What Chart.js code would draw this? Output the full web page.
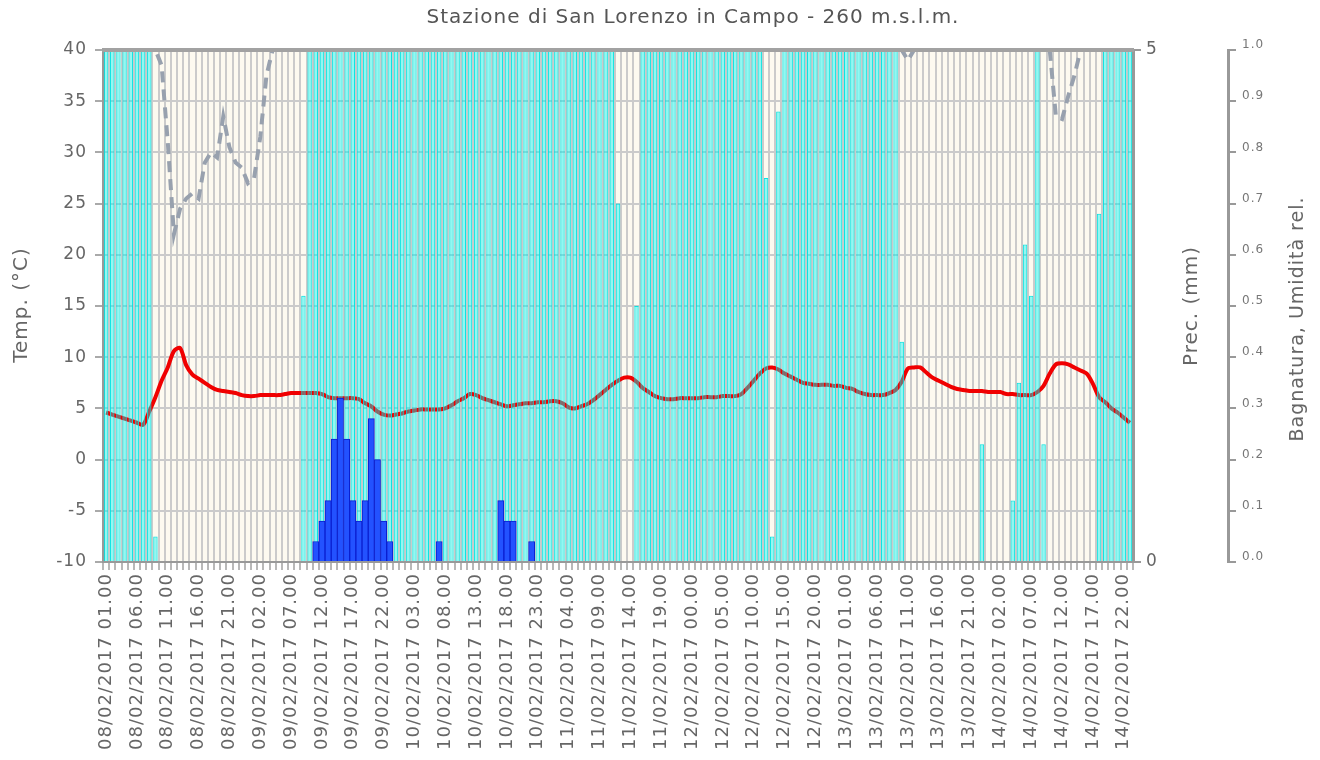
<!DOCTYPE html>
<html>
<head>
<meta charset="utf-8">
<script src="https://cdn.jsdelivr.net/npm/chart.js@4.4.1/dist/chart.umd.min.js"></script>
<style>
  html, body { margin: 0; padding: 0; background: #fff; }
  #wrap { width: 1320px; height: 760px; }
</style>
</head>
<body>
<div id="wrap"><canvas id="meteo" width="1320" height="760"></canvas></div>
<script>
// Testi
const chartTitle = 'Stazione di San Lorenzo in Campo - 260 m.s.l.m.';
const tempTitle = 'Temp. (°C)';
const precTitle = 'Prec. (mm)';
const wetTitle = 'Bagnatura, Umidità rel.';

// Asse orario: dal 08/02/2017 01.00, una categoria per ora
const startDay = 8;
const startHour = 1;
const hourCount = 167;
const labelEvery = 5;

// Temperatura (°C), un valore per ora
const temperature = [
  4.6, 4.4, 4.2, 4.0, 3.8, 3.6, 3.4, 4.7, 6.1, 7.7,
  9.0, 10.6, 10.9, 9.2, 8.3, 7.9, 7.5, 7.1, 6.8, 6.7,
  6.6, 6.5, 6.3, 6.2, 6.2, 6.3, 6.3, 6.3, 6.3, 6.4,
  6.5, 6.5, 6.5, 6.5, 6.5, 6.4, 6.1, 6.0, 6.0, 6.0,
  6.0, 5.9, 5.5, 5.2, 4.7, 4.4, 4.3, 4.4, 4.5, 4.7,
  4.8, 4.9, 4.9, 4.9, 4.9, 5.0, 5.3, 5.7, 6.0, 6.4,
  6.3, 6.0, 5.8, 5.6, 5.4, 5.2, 5.3, 5.4, 5.5, 5.5,
  5.6, 5.6, 5.7, 5.7, 5.5, 5.1, 5.0, 5.2, 5.4, 5.8,
  6.3, 6.8, 7.3, 7.7, 8.0, 8.0, 7.6, 7.0, 6.6, 6.2,
  6.0, 5.9, 5.9, 6.0, 6.0, 6.0, 6.0, 6.1, 6.1, 6.1,
  6.2, 6.2, 6.2, 6.4, 7.0, 7.7, 8.4, 8.9, 9.0, 8.8,
  8.4, 8.1, 7.8, 7.5, 7.4, 7.3, 7.3, 7.3, 7.2, 7.2,
  7.0, 6.9, 6.6, 6.4, 6.3, 6.3, 6.3, 6.5, 6.8, 7.6,
  8.9, 9.0, 9.0, 8.5, 8.0, 7.7, 7.4, 7.1, 6.9, 6.8,
  6.7, 6.7, 6.7, 6.6, 6.6, 6.6, 6.4, 6.4, 6.3, 6.3,
  6.3, 6.6, 7.2, 8.4, 9.3, 9.4, 9.3, 9.0, 8.7, 8.4,
  7.4, 6.1, 5.6, 5.0, 4.6, 4.1, 3.6
];

// Precipitazione (mm)
const precipitation = [
  0, 0, 0, 0, 0, 0, 0, 0, 0, 0,
  0, 0, 0, 0, 0, 0, 0, 0, 0, 0,
  0, 0, 0, 0, 0, 0, 0, 0, 0, 0,
  0, 0, 0, 0, 0.2, 0.4, 0.6, 1.2, 1.6, 1.2,
  0.6, 0.4, 0.6, 1.4, 1.0, 0.4, 0.2, 0, 0, 0,
  0, 0, 0, 0, 0.2, 0, 0, 0, 0, 0,
  0, 0, 0, 0, 0.6, 0.4, 0.4, 0, 0, 0.2,
  0, 0, 0, 0, 0, 0, 0, 0, 0, 0,
  0, 0, 0, 0, 0, 0, 0, 0, 0, 0,
  0, 0, 0, 0, 0, 0, 0, 0, 0, 0,
  0, 0, 0, 0, 0, 0, 0, 0, 0, 0,
  0, 0, 0, 0, 0, 0, 0, 0, 0, 0,
  0, 0, 0, 0, 0, 0, 0, 0, 0, 0,
  0, 0, 0, 0, 0, 0, 0, 0, 0, 0,
  0, 0, 0, 0, 0, 0, 0, 0, 0, 0,
  0, 0, 0, 0, 0, 0, 0, 0, 0, 0,
  0, 0, 0, 0, 0, 0, 0
];

// Bagnatura fogliare (0-1)
const wetness = [
  1, 1, 1, 1, 1, 1, 1, 1, 0.05, 0,
  0, 0, 0, 0, 0, 0, 0, 0, 0, 0,
  0, 0, 0, 0, 0, 0, 0, 0, 0, 0,
  0, 0, 0.52, 1, 1, 1, 1, 1, 1, 1,
  1, 1, 1, 1, 1, 1, 1, 1, 1, 1,
  1, 1, 1, 1, 1, 1, 1, 1, 1, 1,
  1, 1, 1, 1, 1, 1, 1, 1, 1, 1,
  1, 1, 1, 1, 1, 1, 1, 1, 1, 1,
  1, 1, 1, 0.7, 0, 0, 0.5, 1, 1, 1,
  1, 1, 1, 1, 1, 1, 1, 1, 1, 1,
  1, 1, 1, 1, 1, 1, 1, 0.75, 0.05, 0.88,
  1, 1, 1, 1, 1, 1, 1, 1, 1, 1,
  1, 1, 1, 1, 1, 1, 1, 1, 1, 0.43,
  0, 0, 0, 0, 0, 0, 0, 0, 0, 0,
  0, 0, 0.23, 0, 0, 0, 0, 0.12, 0.35, 0.62,
  0.52, 1, 0.23, 0, 0, 0, 0, 0, 0, 0,
  0, 0.68, 1, 1, 1, 1, 1
];

// Umidità relativa (0-1)
const humidity = [
  1, 1, 1, 1, 1, 1, 1, 1, 1, 0.97,
  0.82, 0.64, 0.69, 0.71, 0.72, 0.71, 0.78, 0.80, 0.79, 0.87,
  0.81, 0.78, 0.77, 0.74, 0.75, 0.83, 0.95, 1, 1, 1,
  1, 1, 1, 1, 1, 1, 1, 1, 1, 1,
  1, 1, 1, 1, 1, 1, 1, 1, 1, 1,
  1, 1, 1, 1, 1, 1, 1, 1, 1, 1,
  1, 1, 1, 1, 1, 1, 1, 1, 1, 1,
  1, 1, 1, 1, 1, 1, 1, 1, 1, 1,
  1, 1, 1, 1, 1, 1, 1, 1, 1, 1,
  1, 1, 1, 1, 1, 1, 1, 1, 1, 1,
  1, 1, 1, 1, 1, 1, 1, 1, 1, 1,
  1, 1, 1, 1, 1, 1, 1, 1, 1, 1,
  1, 1, 1, 1, 1, 1, 1, 1, 1, 1,
  0.98, 1, 1, 1, 1, 1, 1, 1, 1, 1,
  1, 1, 1, 1, 1, 1, 1, 1, 1, 1,
  1, 1, 1, 1, 0.87, 0.865, 0.91, 0.95, 1, 1,
  1, 1, 1, 1, 1, 1, 1
];

function pad(n) {
    return (n < 10 ? '0' : '') + n;
}

// Etichette orarie "gg/02/2017 hh.00"
function buildLabels() {
    const out = [];
    for (let h = 0; h < hourCount; h++) {
        const t = startHour + h;
        const day = startDay + Math.floor(t / 24);
        out.push(pad(day) + '/02/2017 ' + pad(t % 24) + '.00');
    }
    return out;
}
const hourLabels = buildLabels();

const FONT = "'DejaVu Sans', sans-serif";
Chart.defaults.font.family = FONT;

// sfondo crema, bordo superiore e testi ruotati
const decor = {
    id: 'decor',
    beforeDraw(chart) {
        const { ctx, chartArea: a } = chart;
        ctx.save();
        ctx.fillStyle = '#fdfaf0';
        ctx.fillRect(a.left, a.top, a.right - a.left, a.bottom - a.top);
        ctx.restore();
        ctx.letterSpacing = '1px';
    },
    afterDatasetsDraw(chart) {
        const { ctx, chartArea: a } = chart;
        ctx.save();
        ctx.strokeStyle = '#a2a2a2';
        ctx.lineWidth = 4;
        ctx.beginPath();
        ctx.moveTo(a.left - 1, a.top);
        ctx.lineTo(a.right + 1, a.top);
        ctx.stroke();
        ctx.restore();
    },
    afterDraw(chart) {
        const ctx = chart.ctx;
        ctx.save();
        ctx.letterSpacing = '1px';
        ctx.textAlign = 'center';
        ctx.textBaseline = 'middle';
        ctx.fillStyle = '#555';
        ctx.font = '20px ' + FONT;
        ctx.fillText(chartTitle, 693, 18);

        ctx.fillStyle = '#666';
        const vertical = (text, x, y, size) => {
            ctx.save();
            ctx.font = size + 'px ' + FONT;
            ctx.translate(x, y);
            ctx.rotate(-Math.PI / 2);
            ctx.fillText(text, 0, 0);
            ctx.restore();
        };
        vertical(tempTitle, 22, 305, 20);
        vertical(precTitle, 1192, 306, 20);
        vertical(wetTitle, 1298, 319, 19);
        ctx.restore();
    }
};

const ctx = document.getElementById('meteo').getContext('2d');

new Chart(ctx, {
    type: 'bar',
    data: {
        labels: hourLabels,
        datasets: [
            {
                type: 'line',
                label: 'Umidità rel.',
                data: humidity,
                yAxisID: 'yW',
                borderColor: '#98a1ae',
                borderWidth: 4,
                borderDash: [11, 7],
                pointRadius: 0,
                tension: 0,
                clip: 0,
                order: 1
            },
            {
                label: 'Prec.',
                data: precipitation.map(v => v || null),
                yAxisID: 'yP',
                backgroundColor: '#2352ff',
                borderColor: '#0a1fd0',
                borderWidth: 1,
                borderSkipped: 'start',
                barPercentage: 1,
                categoryPercentage: 1,
                grouped: false,
                order: 2
            },
            {
                label: 'Bagnatura',
                data: wetness.map(v => v || null),
                yAxisID: 'yW',
                backgroundColor: 'rgba(0, 242, 242, 0.42)',
                borderColor: 'rgba(0, 225, 225, 0.95)',
                borderWidth: 1,
                borderSkipped: 'start',
                barPercentage: 0.72,
                categoryPercentage: 1,
                grouped: false,
                order: 3
            },
            {
                type: 'line',
                label: 'Temp.',
                data: temperature,
                yAxisID: 'y',
                borderColor: '#f00000',
                borderWidth: 4,
                pointRadius: 0,
                tension: 0.3,
                order: 4
            }
        ]
    },
    options: {
        responsive: false,
        animation: false,
        layout: { padding: { top: 50, left: 0, right: 0, bottom: 0 } },
        plugins: {
            legend: { display: false },
            tooltip: { enabled: false },
            title: { display: false }
        },
        scales: {
            x: {
                offset: true,
                grid: { offset: true, color: '#cbcbcb', lineWidth: 2, tickLength: 8, tickColor: '#b8b8b8' },
                border: { color: '#999', width: 2 },
                ticks: {
                    autoSkip: false,
                    minRotation: 90,
                    maxRotation: 90,
                    padding: 3,
                    color: '#666',
                    font: { size: 18 },
                    callback: function (value, index) {
                        return index % labelEvery === 0 ? this.getLabelForValue(value) : '';
                    }
                },
                afterFit(scale) { scale.height = 198; }
            },
            y: {
                position: 'left',
                min: -10,
                max: 40,
                ticks: { stepSize: 5, padding: 8, color: '#666', font: { size: 17 } },
                grid: { color: '#cbcbcb', lineWidth: 2, tickLength: 8, tickColor: '#aaa' },
                border: { color: '#999', width: 3 },
                afterFit(scale) { scale.width = 103; }
            },
            yP: {
                position: 'right',
                weight: 0,
                min: 0,
                max: 5,
                ticks: { stepSize: 5, padding: 5, color: '#666', font: { size: 17 } },
                grid: { drawOnChartArea: false, tickLength: 8, color: '#999', lineWidth: 2 },
                border: { color: '#999', width: 3 },
                afterFit(scale) { scale.width = 95; }
            },
            yW: {
                position: 'right',
                weight: 1,
                min: 0,
                max: 1,
                ticks: {
                    stepSize: 0.1,
                    padding: 6,
                    labelOffset: -5,
                    color: '#777',
                    font: { size: 12 },
                    callback: v => v.toFixed(1)
                },
                grid: { drawOnChartArea: false, tickLength: 8, color: '#999', lineWidth: 2 },
                border: { color: '#999', width: 3 },
                afterFit(scale) { scale.width = 92; }
            }
        }
    },
    plugins: [decor]
});
</script>
</body>
</html>
